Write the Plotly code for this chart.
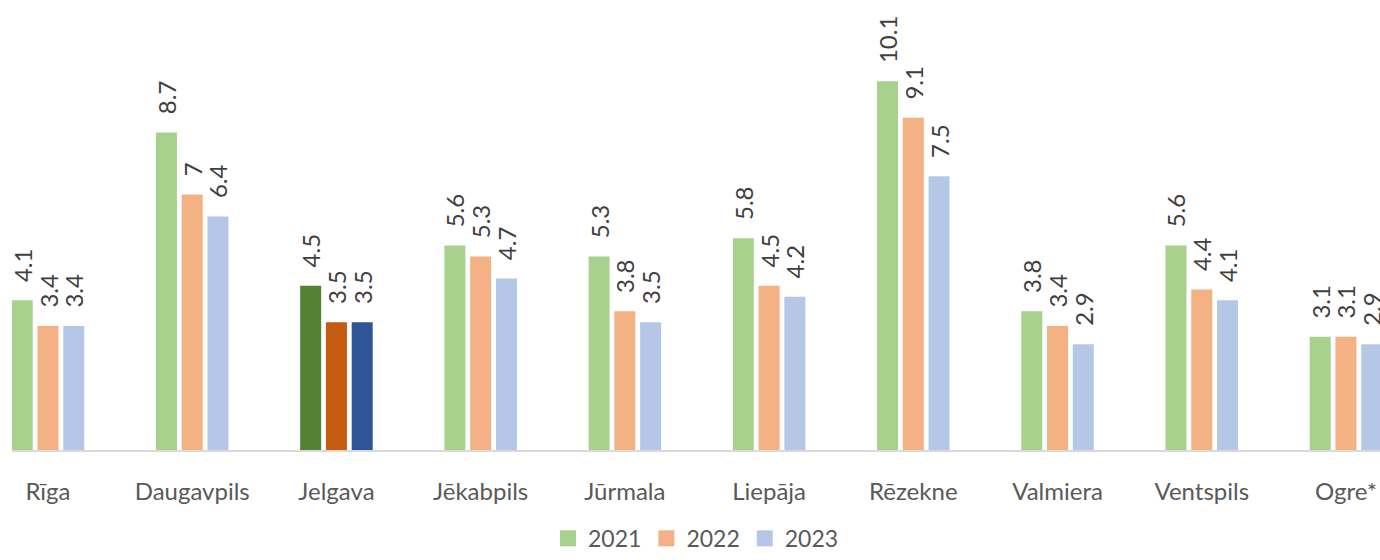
import plotly.graph_objects as go

categories = ["Rīga", "Daugavpils", "Jelgava", "Jēkabpils", "Jūrmala",
              "Liepāja", "Rēzekne", "Valmiera", "Ventspils", "Ogre*"]
years = ["2021", "2022", "2023"]
v2021 = [4.1, 8.7, 4.5, 5.6, 5.3, 5.8, 10.1, 3.8, 5.6, 3.1]
v2022 = [3.4, 7.0, 3.5, 5.3, 3.8, 4.5, 9.1, 3.4, 4.4, 3.1]
v2023 = [3.4, 6.4, 3.5, 4.7, 3.5, 4.2, 7.5, 2.9, 4.1, 2.9]
highlight = "Jelgava"

base_colors = ["#A9D18E", "#F4B183", "#B4C7E7"]
hi_colors = ["#548235", "#C55A11", "#2F5597"]

FONT = "Lato"
fig = go.Figure()
for vals, name, bc, hc in zip([v2021, v2022, v2023], years, base_colors, hi_colors):
    cols = [hc if c == highlight else bc for c in categories]
    fig.add_trace(go.Bar(
        x=categories, y=vals, name=name, showlegend=False,
        marker=dict(color=cols, line=dict(width=0)),
        text=["\u00a0\u00a0\u2009" + f"{v:g}" for v in vals],
        textposition="outside", textangle=-90, constraintext="none",
        cliponaxis=False,
        textfont=dict(family=FONT, size=24, color="#404040"),
    ))
# legend entries (square swatches)
for name, bc in zip(years, base_colors):
    fig.add_trace(go.Scatter(
        x=[None], y=[None], mode="markers", name=name,
        marker=dict(symbol="square", size=16, color=bc),
    ))

fig.update_layout(
    width=1380, height=560,
    margin=dict(l=12, r=0, t=12, b=102),
    paper_bgcolor="white", plot_bgcolor="white",
    barmode="group", bargap=0.464, bargroupgap=0.185,
    showlegend=True,
    legend=dict(orientation="h", x=0.5, xanchor="center", y=-0.2018, yanchor="middle",
                font=dict(family=FONT, size=23, color="#595959"),
                itemclick=False, itemwidth=30),
    xaxis=dict(range=[-0.2496, 9.236], showline=True, linecolor="#D9D9D9", linewidth=1.5,
               showgrid=False, ticks="outside", ticklen=19, tickcolor="rgba(0,0,0,0)",
               tickfont=dict(family=FONT, size=24, color="#595959"), fixedrange=True),
    yaxis=dict(range=[0, 12], visible=False, showgrid=False, zeroline=False),
)
fig.write_html(
    "out.html",
    config={"displayModeBar": False},
    post_script="document.body.style.margin='0';document.body.style.overflow='hidden';",
)
